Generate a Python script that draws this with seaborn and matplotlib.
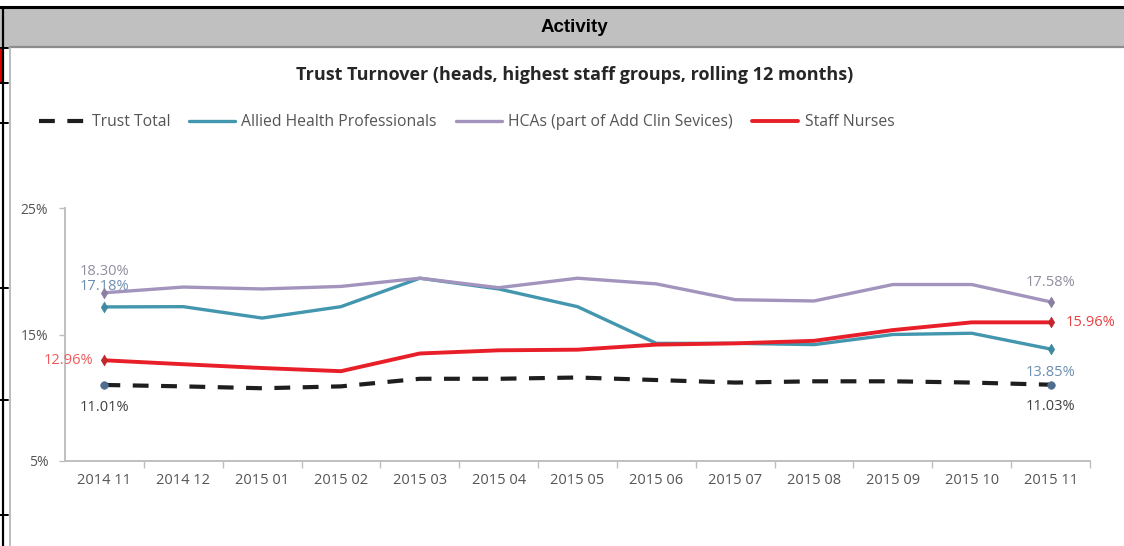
import matplotlib
matplotlib.use("Agg")
import matplotlib.pyplot as plt
from matplotlib.lines import Line2D
from matplotlib.patches import Rectangle
import seaborn as sns
import pandas as pd

sns.set_theme(style="white")
plt.rcParams["font.family"] = ["Open Sans", "DejaVu Sans"]

months = ["2014 11", "2014 12", "2015 01", "2015 02", "2015 03", "2015 04",
          "2015 05", "2015 06", "2015 07", "2015 08", "2015 09", "2015 10", "2015 11"]
trust_total = [11.01, 10.9, 10.75, 10.9, 11.5, 11.5, 11.6, 11.4, 11.2, 11.3, 11.3, 11.2, 11.03]
allied_health = [17.18, 17.2, 16.3, 17.2, 19.45, 18.6, 17.2, 14.3, 14.3, 14.2, 15.0, 15.1, 13.85]
hcas = [18.30, 18.75, 18.6, 18.8, 19.45, 18.7, 19.45, 19.0, 17.75, 17.65, 18.95, 18.95, 17.58]
staff_nurses = [12.96, 12.65, 12.35, 12.1, 13.5, 13.75, 13.8, 14.2, 14.3, 14.5, 15.35, 15.96, 15.96]
y_ticks = [5, 15, 25]

series = [
    ("Trust Total", trust_total, "#1e1e1e", (0, (3.8, 3.0)), 3.0, "o", "#4f6d8f"),
    ("Allied Health Professionals", allied_health, "#4296ae", "-", 2.4, "d", "#3f8aa0"),
    ("HCAs (part of Add Clin Sevices)", hcas, "#a294bd", "-", 2.4, "d", "#8a7fa3"),
    ("Staff Nurses", staff_nurses, "#e81e28", "-", 2.8, "d", "#c0282e"),
]

fig = plt.figure(figsize=(11.24, 5.46), dpi=100)

# page chrome: header band and table borders
fig.patches.append(Rectangle((0.0, 1 - 47 / 546), 1.0, 39 / 546, transform=fig.transFigure,
                             facecolor="#c0c0c0", edgecolor="none", zorder=0))
fig.add_artist(Line2D([0, 1], [1 - 7 / 546] * 2, transform=fig.transFigure, color="black", lw=2.2))
fig.add_artist(Line2D([0.009, 1], [1 - 47 / 546] * 2, transform=fig.transFigure, color="#8c8c8c", lw=1.6))
fig.add_artist(Line2D([3 / 1124] * 2, [0, 1 - 7 / 546], transform=fig.transFigure, color="black", lw=1.6))
fig.add_artist(Line2D([10 / 1124] * 2, [0, 1 - 48 / 546], transform=fig.transFigure, color="#b0b0b0", lw=1.2))
for yy in [48, 83, 123, 288, 400, 515]:
    fig.add_artist(Line2D([0, 8 / 1124], [1 - yy / 546] * 2, transform=fig.transFigure,
                          color="black", lw=1.4))
fig.patches.append(Rectangle((0, 1 - 82 / 546), 2.5 / 1124, 33 / 546, transform=fig.transFigure,
                             facecolor="#e00000", edgecolor="none"))
fig.text(574 / 1124, 1 - 28 / 546, "Activity", ha="center", va="center",
         fontsize=13.5, fontweight="bold", color="black", family="Liberation Sans")

ax = fig.add_axes([65 / 1124, 1 - 461 / 546, 1025 / 1124, 253 / 546])
ax.set_facecolor("none")

x_pos = list(range(len(months)))
last = len(months) - 1
for name, vals, color, ls, lw, mk, mkc in series:
    df = pd.DataFrame({"month": x_pos, "value": vals})
    sns.lineplot(data=df, x="month", y="value", ax=ax, color=color, linewidth=lw,
                 linestyle=ls, label=name, sort=False)
    ends = df.iloc[[0, last]]
    sns.scatterplot(data=ends, x="month", y="value", ax=ax, marker=mk, s=30,
                    color=mkc, edgecolor=mkc, legend=False, zorder=5)

ax.set_xlim(-0.5, len(months) - 0.5)
ax.set_ylim(5, 25)
ax.set_yticks(y_ticks)
ax.set_yticklabels([f"{v}%" for v in y_ticks])
ax.set_xticks(x_pos)
ax.set_xticklabels(months)
ax.set_xticks([i - 0.5 for i in range(1, len(months) + 1)], minor=True)
ax.tick_params(axis="x", which="major", length=0, pad=9, labelsize=10.5, labelcolor="#555555")
ax.tick_params(axis="x", which="minor", length=5, width=1, color="#bfbfbf", bottom=True)
ax.tick_params(axis="y", which="major", length=4, width=1, color="#bfbfbf", left=True,
               pad=8, labelsize=10, labelcolor="#555555")
ax.set_xlabel("")
ax.set_ylabel("")
for side in ["top", "right"]:
    ax.spines[side].set_visible(False)
for side in ["left", "bottom"]:
    ax.spines[side].set_color("#bfbfbf")
    ax.spines[side].set_linewidth(1.4)

# value labels at the first and last month
def lab(i, vals, text_color, dx, dy, ha):
    ax.annotate(f"{vals[i]:.2f}%", (i, vals[i]), xytext=(dx, dy), textcoords="offset points",
                ha=ha, va="center", fontsize=10.5, color=text_color)

lab(0, hcas, "#8f8fa0", 0, 15, "center")
lab(0, allied_health, "#6d8db0", 0, 15, "center")
lab(0, staff_nurses, "#f05a5a", -8, 0, "right")
lab(0, trust_total, "#404040", 0, -16, "center")
lab(last, hcas, "#8f8fa0", 0, 14, "center")
lab(last, staff_nurses, "#e84040", 11, 0, "left")
lab(last, allied_health, "#6d8db0", 0, -17, "center")
lab(last, trust_total, "#404040", 0, -16, "center")

ax.legend(loc="upper left", bbox_to_anchor=(39 / 1124, 1 - 114 / 546), bbox_transform=fig.transFigure,
          ncol=4, frameon=False, fontsize=11.3, labelcolor="#555555", handlelength=2.95,
          handletextpad=0.4, columnspacing=1.2, borderaxespad=0, borderpad=0)

fig.text(575 / 1124, 1 - 75 / 546, "Trust Turnover (heads, highest staff groups, rolling 12 months)",
         ha="center", va="center", fontsize=13, fontweight="bold", color="#262626")

fig.savefig("out.png", dpi=100, facecolor="white")
